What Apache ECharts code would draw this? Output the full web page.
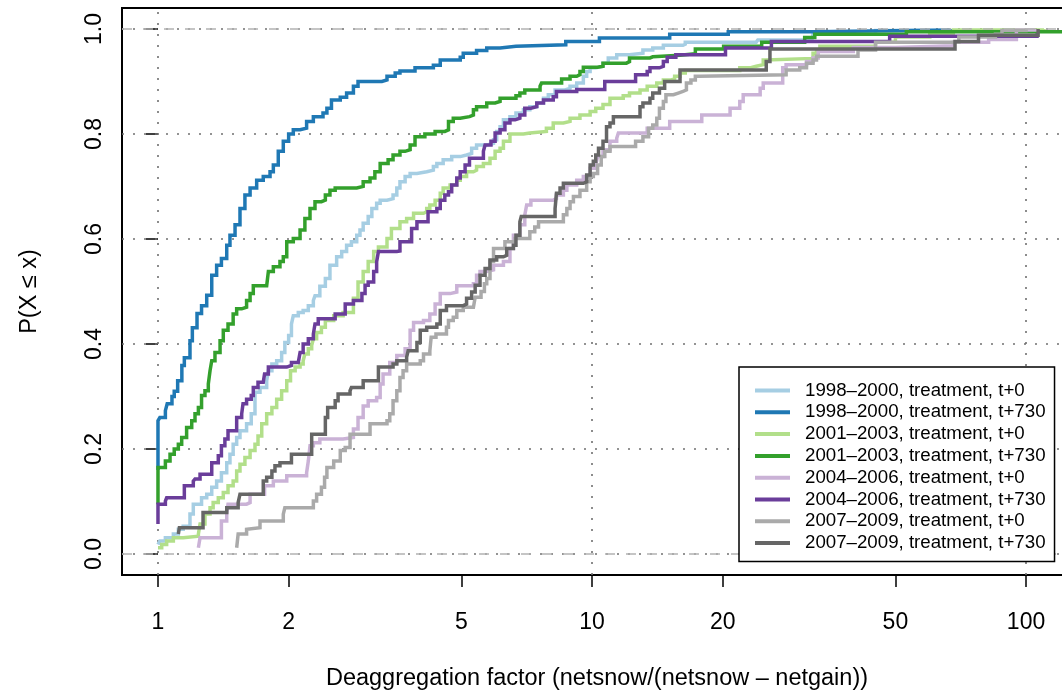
<!DOCTYPE html>
<html><head><meta charset="utf-8">
<script src="https://cdn.jsdelivr.net/npm/echarts@6/dist/echarts.min.js"></script>
<style>html,body{margin:0;padding:0;background:#fff}#c{width:1062px;height:691px}</style>
</head><body><div id="c"></div>
<script>
const seriesNames = [
  '1998–2000, treatment, t+0','1998–2000, treatment, t+730',
  '2001–2003, treatment, t+0','2001–2003, treatment, t+730',
  '2004–2006, treatment, t+0','2004–2006, treatment, t+730',
  '2007–2009, treatment, t+0','2007–2009, treatment, t+730'];
const seriesColors = ['#A6CEE3','#1F78B4','#B2DF8A','#33A02C','#CAB2D6','#6A3D9A','#AAAAAA','#666666'];
const xTickLabels = [1,2,5,10,20,50,100];
const yTickLabels = [0,0.2,0.4,0.6,0.8,1.0];
const xGridValues = [1,10,100];

const ecdf9800t0 = [[1.0,0.018],[1.01,0.025],[1.04,0.031],[1.085,0.038],[1.114,0.047],[1.143,0.053],[1.185,0.076],[1.206,0.095],[1.26,0.107],[1.295,0.114],[1.33,0.127],[1.365,0.139],[1.40,0.155],[1.44,0.174],[1.465,0.19],[1.49,0.209],[1.518,0.222],[1.545,0.235],[1.6,0.248],[1.64,0.267],[1.673,0.308],[1.718,0.317],[1.78,0.33],[1.796,0.349],[1.83,0.362],[1.877,0.368],[1.927,0.384],[1.96,0.403],[2.0,0.416],[2.03,0.438],[2.05,0.454],[2.105,0.46],[2.16,0.464],[2.22,0.473],[2.28,0.483],[2.30,0.492],[2.36,0.51],[2.43,0.525],[2.49,0.55],[2.58,0.566],[2.65,0.576],[2.72,0.588],[2.79,0.595],[2.87,0.607],[2.92,0.617],[2.97,0.63],[3.05,0.643],[3.11,0.658],[3.19,0.668],[3.25,0.674],[3.37,0.677],[3.48,0.684],[3.55,0.697],[3.61,0.709],[3.71,0.719],[3.81,0.725],[3.95,0.728],[4.16,0.731],[4.31,0.738],[4.39,0.744],[4.54,0.751],[4.75,0.757],[4.97,0.76],[5.14,0.763],[5.28,0.773],[5.42,0.779],[5.72,0.782],[5.93,0.789],[6.03,0.805],[6.14,0.814],[6.25,0.827],[6.47,0.833],[6.68,0.84],[6.95,0.846],[7.19,0.852],[7.46,0.859],[7.73,0.868],[7.93,0.875],[8.22,0.884],[8.66,0.887],[8.9,0.891],[9.22,0.897],[9.55,0.91],[9.72,0.919],[9.9,0.926],[10.2,0.929],[10.6,0.935],[10.9,0.945],[11.4,0.951],[12.2,0.954],[13.1,0.96],[13.8,0.964],[14.6,0.969],[16.2,0.971],[16.4,0.975],[23.9,0.976],[24.1,0.979],[32.1,0.98],[32.3,0.99],[45,0.997],[60,1.0]];

const ecdf9800t730 = [[1,0.16],[1,0.254],[1.01,0.26],[1.04,0.273],[1.05,0.286],[1.077,0.3],[1.09,0.31],[1.11,0.33],[1.135,0.359],[1.15,0.374],[1.185,0.406],[1.2,0.431],[1.23,0.458],[1.26,0.473],[1.295,0.493],[1.33,0.531],[1.365,0.55],[1.4,0.563],[1.44,0.588],[1.465,0.607],[1.505,0.627],[1.545,0.658],[1.586,0.684],[1.63,0.697],[1.688,0.712],[1.748,0.719],[1.812,0.728],[1.844,0.741],[1.893,0.767],[1.944,0.786],[2,0.8],[2.05,0.808],[2.125,0.811],[2.2,0.824],[2.28,0.833],[2.4,0.84],[2.45,0.849],[2.51,0.865],[2.63,0.87],[2.72,0.878],[2.82,0.891],[2.89,0.9],[3.28,0.903],[3.37,0.91],[3.52,0.916],[3.61,0.92],[3.91,0.926],[4.31,0.931],[4.47,0.941],[4.97,0.946],[5.05,0.954],[5.42,0.959],[5.72,0.964],[6.14,0.967],[6.68,0.97],[8.7,0.976],[10.4,0.983],[15.1,0.99],[20.6,0.995],[32.3,0.998],[67,1]];

const ecdf0103t0 = [[1.0,0.012],[1.02,0.018],[1.047,0.025],[1.085,0.031],[1.143,0.034],[1.239,0.038],[1.25,0.057],[1.283,0.076],[1.318,0.088],[1.34,0.098],[1.377,0.107],[1.414,0.117],[1.45,0.13],[1.49,0.139],[1.518,0.158],[1.545,0.171],[1.586,0.184],[1.63,0.197],[1.673,0.209],[1.70,0.225],[1.734,0.248],[1.78,0.267],[1.83,0.279],[1.877,0.295],[1.927,0.311],[1.98,0.33],[2.02,0.349],[2.07,0.356],[2.125,0.362],[2.16,0.368],[2.18,0.381],[2.22,0.391],[2.26,0.397],[2.28,0.41],[2.32,0.422],[2.38,0.432],[2.43,0.445],[2.54,0.454],[2.67,0.46],[2.82,0.487],[2.89,0.518],[2.97,0.538],[3.05,0.557],[3.14,0.576],[3.22,0.585],[3.37,0.601],[3.45,0.62],[3.61,0.633],[3.74,0.639],[3.88,0.649],[4.09,0.652],[4.16,0.658],[4.23,0.665],[4.35,0.674],[4.47,0.687],[4.54,0.697],[4.71,0.703],[4.88,0.712],[4.97,0.719],[5.14,0.728],[5.33,0.731],[5.42,0.738],[5.62,0.744],[5.82,0.754],[5.98,0.767],[6.14,0.773],[6.25,0.786],[6.47,0.8],[6.95,0.802],[7.19,0.805],[7.85,0.811],[8.14,0.821],[8.59,0.824],[8.9,0.83],[9.38,0.836],[9.9,0.843],[10.2,0.849],[10.6,0.856],[11.0,0.868],[11.8,0.873],[12.2,0.878],[12.9,0.884],[13.4,0.891],[14.1,0.897],[14.6,0.903],[15.2,0.905],[15.5,0.91],[15.95,0.916],[16.4,0.921],[21.9,0.926],[23.1,0.929],[23.9,0.932],[24.8,0.941],[25.1,0.944],[32.3,0.954],[32.9,0.96],[33.5,0.967],[45,0.975],[50,0.985],[60,0.99],[68,0.998],[110,1.0]];

const ecdf0103t730 = [[1,0.095],[1,0.165],[1.04,0.177],[1.066,0.19],[1.09,0.2],[1.114,0.209],[1.134,0.222],[1.164,0.241],[1.196,0.254],[1.217,0.267],[1.239,0.279],[1.26,0.302],[1.283,0.311],[1.306,0.324],[1.318,0.349],[1.33,0.368],[1.353,0.384],[1.39,0.406],[1.414,0.426],[1.45,0.438],[1.49,0.457],[1.518,0.467],[1.559,0.47],[1.6,0.483],[1.63,0.496],[1.658,0.511],[1.78,0.512],[1.796,0.538],[1.844,0.547],[1.91,0.557],[1.944,0.566],[1.98,0.595],[2.05,0.601],[2.125,0.617],[2.18,0.639],[2.24,0.658],[2.3,0.671],[2.38,0.674],[2.43,0.684],[2.49,0.693],[2.56,0.697],[2.87,0.7],[2.97,0.709],[3.08,0.716],[3.16,0.728],[3.25,0.744],[3.39,0.751],[3.48,0.76],[3.61,0.767],[3.71,0.77],[3.81,0.779],[3.91,0.795],[4.12,0.8],[4.35,0.805],[4.58,0.808],[4.67,0.824],[4.79,0.83],[4.97,0.833],[5.22,0.836],[5.33,0.846],[5.42,0.852],[5.72,0.859],[5.98,0.862],[6.14,0.868],[6.68,0.873],[6.82,0.878],[7.0,0.884],[7.59,0.891],[7.65,0.897],[8.51,0.905],[8.9,0.91],[9.22,0.913],[9.38,0.919],[9.55,0.927],[10.3,0.929],[10.6,0.935],[12.0,0.938],[12.2,0.945],[13.6,0.947],[13.8,0.95],[15.95,0.953],[17.3,0.962],[20.1,0.967],[24.6,0.975],[30.9,0.984],[32.6,0.99],[53,0.995],[130,0.995]];

const ecdf0406t0 = [[1.239,0.012],[1.25,0.031],[1.40,0.063],[1.44,0.076],[1.45,0.095],[1.6,0.098],[1.63,0.114],[1.76,0.13],[1.844,0.139],[1.98,0.149],[2.2,0.155],[2.22,0.177],[2.24,0.206],[2.28,0.212],[2.36,0.219],[2.67,0.222],[2.82,0.238],[2.89,0.26],[2.97,0.282],[3.05,0.292],[3.19,0.298],[3.25,0.324],[3.3,0.343],[3.42,0.365],[3.55,0.378],[3.71,0.391],[3.81,0.426],[3.88,0.441],[4.09,0.445],[4.23,0.457],[4.35,0.476],[4.47,0.496],[4.71,0.499],[4.88,0.511],[5.33,0.515],[5.42,0.531],[5.52,0.538],[5.72,0.541],[5.93,0.55],[6.25,0.557],[6.47,0.582],[6.59,0.607],[6.82,0.627],[7.0,0.646],[7.07,0.665],[7.23,0.674],[8.14,0.677],[8.28,0.684],[8.59,0.693],[8.75,0.703],[9.22,0.712],[9.55,0.719],[9.9,0.735],[10.2,0.741],[10.3,0.757],[10.6,0.77],[11.0,0.786],[11.4,0.792],[11.5,0.802],[13.4,0.811],[15.1,0.824],[17.9,0.836],[20.8,0.849],[21.9,0.862],[22.3,0.875],[24.4,0.887],[24.8,0.897],[27.5,0.926],[28.0,0.932],[31.2,0.938],[32.3,0.945],[33.2,0.957],[40,0.965],[50,0.968],[68,0.975],[82,0.98],[95,0.998],[105,1.0]];

const ecdf0406t730 = [[1,0.057],[1,0.095],[1.04,0.101],[1.047,0.107],[1.15,0.13],[1.206,0.139],[1.217,0.143],[1.25,0.152],[1.33,0.174],[1.377,0.187],[1.4,0.206],[1.426,0.219],[1.45,0.235],[1.518,0.26],[1.559,0.267],[1.57,0.286],[1.6,0.295],[1.64,0.302],[1.658,0.317],[1.7,0.327],[1.748,0.33],[1.76,0.343],[1.796,0.356],[1.98,0.359],[2.03,0.365],[2.105,0.368],[2.125,0.384],[2.16,0.4],[2.22,0.41],[2.28,0.419],[2.3,0.438],[2.34,0.448],[2.56,0.457],[2.7,0.476],[2.82,0.483],[2.95,0.496],[3.0,0.512],[3.05,0.518],[3.14,0.538],[3.19,0.557],[3.22,0.576],[3.55,0.577],[3.61,0.595],[3.84,0.62],[3.95,0.633],[4.19,0.652],[4.39,0.658],[4.47,0.674],[4.58,0.684],[4.67,0.69],[4.75,0.703],[4.88,0.716],[4.97,0.728],[5.1,0.741],[5.22,0.754],[5.62,0.767],[5.67,0.779],[5.85,0.786],[5.98,0.802],[6.14,0.808],[6.3,0.821],[6.47,0.827],[6.65,0.83],[6.82,0.836],[7.0,0.849],[7.23,0.852],[7.46,0.859],[7.73,0.865],[8.14,0.871],[8.28,0.881],[9.22,0.885],[10.7,0.9],[12.6,0.913],[13.4,0.919],[13.6,0.926],[14.3,0.929],[14.6,0.938],[14.9,0.946],[15.6,0.951],[20.3,0.964],[25.9,0.976],[48.5,0.986],[106,0.992]];

const ecdf0709t0 = [[1.518,0.012],[1.53,0.038],[1.6,0.047],[1.615,0.05],[1.718,0.063],[1.944,0.076],[1.96,0.088],[2.28,0.101],[2.32,0.114],[2.38,0.127],[2.42,0.146],[2.45,0.165],[2.54,0.177],[2.63,0.197],[2.7,0.203],[2.77,0.228],[3.08,0.248],[3.37,0.254],[3.42,0.267],[3.48,0.292],[3.55,0.311],[3.61,0.336],[3.67,0.349],[3.74,0.362],[4.02,0.368],[4.09,0.381],[4.23,0.387],[4.26,0.413],[4.37,0.419],[4.62,0.432],[4.67,0.445],[4.79,0.451],[4.88,0.464],[5.05,0.47],[5.33,0.473],[5.38,0.489],[5.55,0.5],[5.65,0.515],[5.72,0.525],[5.82,0.557],[5.93,0.582],[6.3,0.595],[6.65,0.601],[7.19,0.614],[7.38,0.623],[7.53,0.633],[8.59,0.646],[8.75,0.658],[8.9,0.671],[9.06,0.681],[9.38,0.693],[9.72,0.709],[9.9,0.719],[10.07,0.725],[10.3,0.741],[10.5,0.757],[10.7,0.767],[11.0,0.776],[12.6,0.786],[13.1,0.795],[13.5,0.811],[13.8,0.817],[14.1,0.83],[14.3,0.849],[14.6,0.862],[14.8,0.875],[15.4,0.878],[15.8,0.881],[16.2,0.884],[16.5,0.897],[16.9,0.903],[17.3,0.91],[17.7,0.913],[28.0,0.922],[30.1,0.926],[31.2,0.935],[32.3,0.941],[32.9,0.948],[41,0.96],[45,0.975],[70,0.985],[85,0.99],[88,0.997],[100,1.0]];

const ecdf0709t730 = [[1.114,0.038],[1.12,0.05],[1.27,0.079],[1.44,0.088],[1.53,0.098],[1.545,0.114],[1.748,0.139],[1.78,0.146],[1.83,0.158],[1.86,0.168],[1.91,0.174],[2.03,0.19],[2.26,0.228],[2.43,0.26],[2.46,0.279],[2.56,0.292],[2.6,0.305],[2.77,0.311],[2.79,0.317],[2.97,0.33],[3.22,0.356],[3.48,0.362],[3.55,0.368],[3.74,0.375],[3.77,0.387],[3.95,0.403],[4.02,0.426],[4.16,0.432],[4.39,0.438],[4.47,0.464],[4.62,0.473],[5.05,0.476],[5.14,0.487],[5.28,0.499],[5.38,0.512],[5.52,0.531],[5.67,0.544],[5.82,0.56],[6.03,0.566],[6.25,0.569],[6.36,0.582],[6.59,0.588],[6.68,0.607],[6.82,0.633],[6.87,0.643],[8.22,0.658],[8.28,0.687],[8.44,0.697],[8.59,0.706],[9.55,0.709],[9.72,0.722],[9.9,0.741],[10.07,0.748],[10.2,0.76],[10.35,0.773],[10.6,0.786],[10.8,0.814],[11.0,0.821],[11.2,0.833],[12.9,0.852],[13.1,0.859],[13.6,0.868],[13.8,0.878],[14.3,0.887],[14.7,0.9],[15.95,0.922],[25.2,0.938],[25.7,0.962],[68.6,0.976],[77.7,0.988],[106.6,1.0]];

const seriesData = [ecdf9800t0, ecdf9800t730, ecdf0103t0, ecdf0103t730, ecdf0406t0, ecdf0406t730, ecdf0709t0, ecdf0709t730];

const FONT = '"Liberation Sans", Arial, Helvetica, sans-serif';
const xMin = 0.8262, xMax = 127.6;

const chart = echarts.init(document.getElementById('c'), null, {renderer: 'canvas'});

const curveSeries = seriesNames.map((name, i) => ({
  name, type: 'line', step: 'end', data: seriesData[i], xAxisIndex: 0, yAxisIndex: 0,
  symbol: 'none', showSymbol: false, clip: true, z: 2,
  lineStyle: {color: seriesColors[i], width: 3.5, cap: 'butt', join: 'miter'},
  itemStyle: {color: seriesColors[i]},
  emphasis: {disabled: true}, silent: true
}));

const option = {
  animation: false,
  backgroundColor: '#fff',
  textStyle: {fontFamily: FONT},
  grid: {left: 122, top: 8, width: 950, height: 567, show: true, borderColor: '#000', borderWidth: 2,
         backgroundColor: 'transparent', containLabel: false, outerBoundsMode: 'none'},
  xAxis: [
    {type: 'log', logBase: 10, min: xMin, max: xMax, gridIndex: 0,
     axisLine: {show: false}, axisTick: {show: false}, axisLabel: {show: false}, splitLine: {show: false}},
    {type: 'value', min: Math.log10(xMin), max: Math.log10(xMax), gridIndex: 0, position: 'bottom',
     axisLine: {show: false}, splitLine: {show: false},
     axisTick: {show: true, customValues: xTickLabels.map(v => Math.log10(v)), length: 12, lineStyle: {color: '#000', width: 1.5}},
     axisLabel: {show: true, customValues: xTickLabels.map(v => Math.log10(v)), margin: 36, fontSize: 23, color: '#000', fontFamily: FONT,
       formatter: v => String(Math.round(Math.pow(10, v)))},
     name: 'Deaggregation factor (netsnow/(netsnow – netgain))', nameLocation: 'middle', nameGap: 92,
     nameTextStyle: {fontSize: 23.5, color: '#000', fontFamily: FONT}}
  ],
  yAxis: {type: 'value', min: -0.04, max: 1.04, gridIndex: 0,
    axisLine: {show: false}, splitLine: {show: false},
    axisTick: {show: true, customValues: yTickLabels, length: 12, lineStyle: {color: '#000', width: 1.5}},
    axisLabel: {show: true, customValues: yTickLabels, rotate: 90, margin: 16, fontSize: 23, color: '#000', fontFamily: FONT,
      formatter: v => Number(v).toFixed(1)},
    name: 'P(X ≤ x)', nameLocation: 'middle', nameGap: 80,
    nameTextStyle: {fontSize: 23.5, color: '#000', fontFamily: FONT}},
  legend: {
    data: seriesNames, orient: 'vertical', left: 739, top: 367,
    icon: 'rect', itemWidth: 35, itemHeight: 4, itemGap: 2.8,
    padding: [14, 9, 9, 16], borderColor: '#000', borderWidth: 1.5, backgroundColor: '#fff',
    textStyle: {fontSize: 18.7, color: '#000', fontFamily: FONT, padding: [0, 0, 0, 10]},
    selectedMode: false, z: 10
  },
  series: [
    {type: 'line', data: [], xAxisIndex: 0, yAxisIndex: 0, silent: true, z: 1,
     markLine: {silent: true, symbol: 'none', z: 1, animation: false, label: {show: false},
       lineStyle: {color: '#707070', type: [2, 9], width: 1.6},
       emphasis: {disabled: true},
       data: [...xGridValues.map(v => ({xAxis: v})), ...yTickLabels.map(v => ({yAxis: v}))]}},
    ...curveSeries,
    {type: 'line', data: [], xAxisIndex: 0, yAxisIndex: 0, silent: true, z: 5,
     markLine: {silent: true, symbol: 'none', z: 5, animation: false, label: {show: false},
       lineStyle: {color: '#B3B3B3', type: [10, 11], width: 1.5},
       emphasis: {disabled: true},
       data: [{yAxis: 0}, {yAxis: 1}]}}
  ]
};
chart.setOption(option);
</script>
</body></html>
